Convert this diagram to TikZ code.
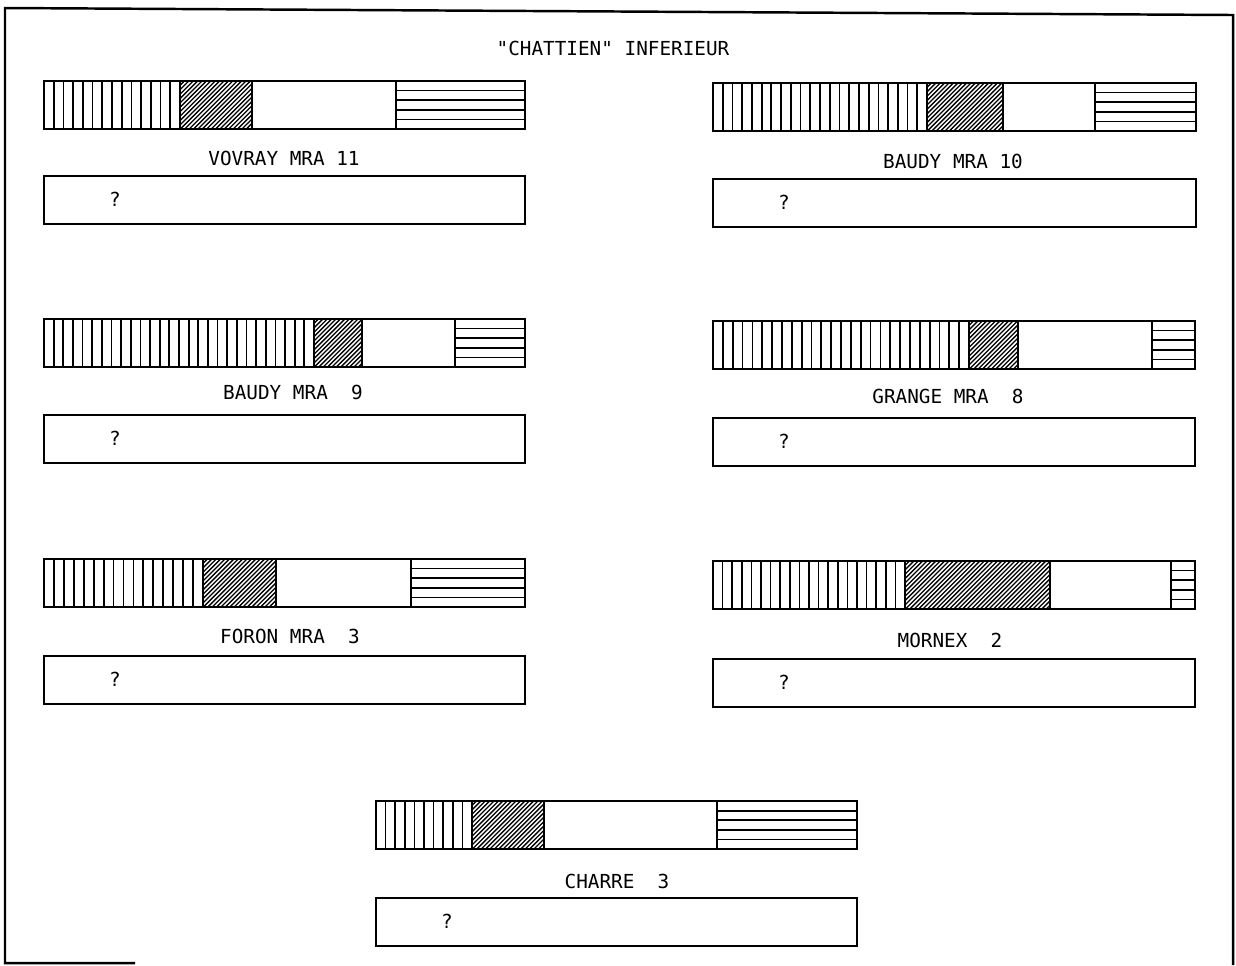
\documentclass[tikz,border=0pt]{standalone}
\usepackage{fontspec}
\setmonofont{DejaVu Sans Mono}
\usetikzlibrary{positioning}
\tikzset{
    % Traits
    cadre/.style={line width=1.4pt, line join=miter},
    strate/.style={line width=1pt},
    hachure/.style={line width=0.75pt},
    % Textes
    nom/.style={font=\ttfamily\fontsize{11}{12}\selectfont, inner sep=0pt},
    question/.style={nom},
}

% colonne : #1 x gauche, #2 fin verticales, #3 fin hachures, #4 fin blanc, #5 x droite, #6 y haut
\newcommand{\colonne}[6]{%
    \pgfmathsetmacro\nv{int(round((#2-#1)/9.7))}
    \pgfmathsetmacro\pas{(#2-#1)/\nv}
    \foreach \k in {1,...,\nv}{\draw[strate] ({#1+\k*\pas},#6) -- ++(0,48);}
    \begin{scope}
        \clip (#2,#6) rectangle (#3,#6+48);
        \pgfmathsetmacro\nh{int((#3-#2+48)/4.4)}
        \foreach \k in {0,...,\nh}{\draw[hachure] ({#2-48+\k*4.4},#6+48) -- ++(48,-48);}
    \end{scope}
    \foreach \k in {1,...,4}{\draw[strate] (#4,{#6+\k*9.6}) -- (#5,{#6+\k*9.6});}
    \draw[cadre] (#3,#6) -- ++(0,48) (#4,#6) -- ++(0,48);
    \draw[cadre] (#1,#6) rectangle (#5,#6+48);
}
% boite : #1 nom, #2 x gauche, #3 x droite, #4 y haut
\newcommand{\boite}[4]{%
    \draw[cadre] (#2,#4) rectangle (#3,#4+48);
    \node[question] (#1) at (#2+71,#4+23) {?};
}

\begin{document}
\begin{tikzpicture}[x=0.02cm, y=-0.02cm]
    \useasboundingbox (0,0) rectangle (1236,965);

    % Cadre general
    \draw[cadre] (135,963) -- (5,963) -- (5,8) -- (1233,15) -- (1233,965);

    % Titre
    \node[nom] (titre) at (613,48) {"CHATTIEN" INFERIEUR};

    % VOVRAY MRA 11
    \colonne{44}{180}{252}{396}{525}{81}
    \node[nom] (vovray) at (284,158) {VOVRAY MRA 11};
    \boite{q-vovray}{44}{525}{176}

    % BAUDY MRA 10
    \colonne{713}{927}{1003}{1095}{1196}{83}
    \node[nom] (baudy10) at (953,161) {BAUDY MRA 10};
    \boite{q-baudy10}{713}{1196}{179}

    % BAUDY MRA 9
    \colonne{44}{314}{362}{455}{525}{319}
    \node[nom] (baudy9) at (293,392) {BAUDY MRA\ \ 9};
    \boite{q-baudy9}{44}{525}{415}

    % GRANGE MRA 8
    \colonne{713}{969}{1018}{1152}{1195}{321}
    \node[nom] (grange) at (948,396) {GRANGE MRA\ \ 8};
    \boite{q-grange}{713}{1195}{418}

    % FORON MRA 3
    \colonne{44}{203}{276}{411}{525}{559}
    \node[nom] (foron) at (290,636) {FORON MRA\ \ 3};
    \boite{q-foron}{44}{525}{656}

    % MORNEX 2
    \colonne{713}{905}{1050}{1171}{1195}{561}
    \node[nom] (mornex) at (950,640) {MORNEX\ \ 2};
    \boite{q-mornex}{713}{1195}{659}

    % CHARRE 3
    \colonne{376}{472}{544}{717}{857}{801}
    \node[nom] (charre) at (617,881) {CHARRE\ \ 3};
    \boite{q-charre}{376}{857}{898}
\end{tikzpicture}
\end{document}
